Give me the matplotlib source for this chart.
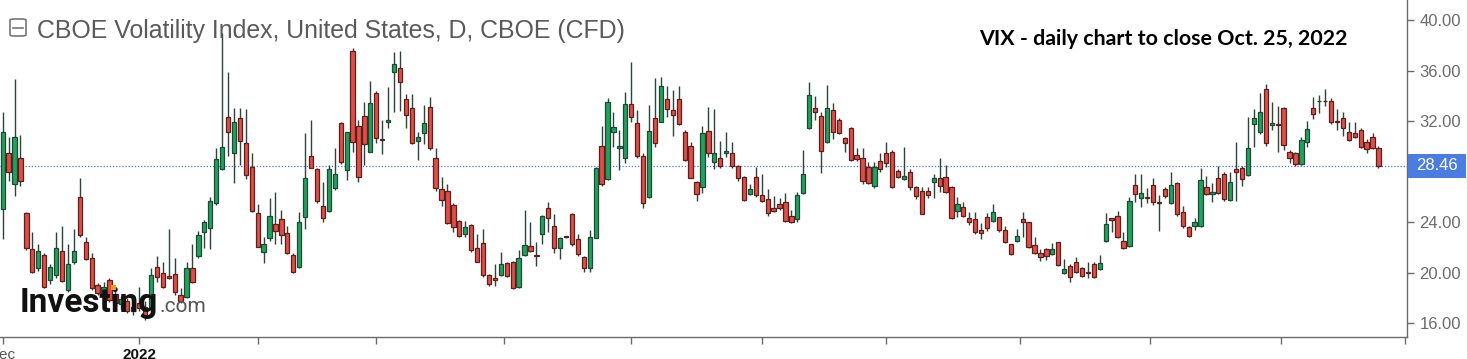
import matplotlib.pyplot as plt
import numpy as np
from matplotlib.patches import Rectangle, FancyBboxPatch
import matplotlib.transforms as mtransforms

# daily OHLC, VIX CFD, Dec 2021 -> Oct 25 2022
opens = [25.05, 29.45, 27.03, 29.10, 24.70, 21.86, 20.40, 21.41, 19.43, 19.80,
         21.75, 18.64, 20.83, 26.02, 22.46, 21.14, 19.03, 18.40, 19.43, 18.30,
         17.50, 17.80, 17.00, 17.60, 17.30, 17.20, 20.43, 19.96, 19.75, 19.88,
         18.24, 18.11, 20.35, 21.35, 23.25, 23.57, 25.50, 28.20, 32.30, 29.45,
         32.22, 30.30, 28.40, 24.70, 21.67, 22.78, 23.86, 24.23, 23.18, 21.41,
         20.49, 24.44, 29.24, 28.19, 25.31, 24.89, 26.68, 31.82, 28.13, 37.55,
         31.64, 32.43, 29.53, 34.20, 30.60, 31.90, 35.86, 36.23, 33.75, 33.01,
         30.45, 31.03, 33.14, 29.11, 26.63, 26.50, 25.36, 24.10, 23.07, 23.78,
         21.99, 22.33, 19.83, 19.62, 19.83, 20.75, 20.88, 18.85, 21.41, 22.12,
         21.40, 23.10, 25.10, 23.70, 21.96, 22.90, 24.63, 22.67, 21.28, 20.41,
         22.78, 30.03, 27.42, 31.11, 29.85, 29.06, 33.35, 31.82, 29.24, 25.97,
         32.27, 31.90, 33.72, 32.88, 33.72, 31.11, 30.03, 27.21, 26.81, 31.24,
         28.79, 29.11, 29.45, 29.45, 28.48, 27.55, 26.21, 27.55, 26.16, 25.81,
         25.10, 25.42, 25.63, 24.49, 24.26, 26.29, 31.43, 33.01, 32.43, 30.37,
         32.88, 32.09, 30.64, 31.48, 29.32, 29.11, 28.40, 26.89, 28.87, 29.45,
         29.58, 28.05, 27.42, 27.95, 26.81, 26.50, 26.50, 27.16, 27.47, 27.55,
         26.81, 24.92, 25.18, 24.36, 24.23, 23.39, 24.44, 24.10, 24.39, 23.39,
         22.25, 22.54, 24.23, 23.99, 22.20, 21.59, 21.86, 21.49, 22.41, 19.96,
         20.56, 20.88, 20.41, 20.09, 20.67, 20.30, 22.52, 24.31, 24.49, 22.54,
         22.15, 26.94, 25.89, 25.99, 26.94, 25.63, 26.63, 25.50, 27.08, 24.78,
         23.65, 23.70, 23.73, 26.81, 26.21, 27.53, 27.79, 25.73, 28.19, 28.27,
         27.74, 31.77, 31.17, 34.54, 31.69, 31.78, 33.01, 29.58, 29.45, 28.58,
         30.37, 33.01, 33.56, 33.62, 33.59, 32.00, 32.27, 31.11, 31.03, 31.30,
         30.37, 30.72, 29.90]
highs = [32.75, 30.77, 35.30, 30.90, 24.83, 23.25, 22.25, 21.54, 20.67, 23.20,
         23.70, 22.25, 23.46, 27.47, 22.81, 21.54, 19.17, 19.30, 19.60, 18.60,
         18.20, 18.00, 17.60, 18.90, 17.80, 20.35, 21.35, 20.88, 23.44, 21.14,
         18.77, 20.83, 22.25, 23.30, 24.18, 26.02, 29.85, 38.95, 35.86, 33.00,
         33.01, 32.93, 29.45, 25.42, 22.86, 25.89, 26.37, 24.97, 23.70, 21.54,
         24.84, 31.03, 32.09, 28.27, 27.21, 28.53, 29.85, 31.96, 31.17, 37.81,
         32.09, 33.49, 35.17, 34.38, 32.09, 34.73, 37.49, 37.55, 34.12, 34.12,
         31.11, 33.28, 33.93, 29.85, 27.55, 27.00, 25.50, 24.18, 24.10, 23.83,
         23.04, 23.44, 19.91, 20.67, 21.62, 20.88, 20.93, 21.80, 24.97, 23.99,
         22.46, 24.57, 25.57, 24.63, 22.86, 22.95, 24.70, 23.04, 21.36, 23.39,
         28.40, 31.61, 33.86, 32.75, 31.30, 34.33, 36.70, 32.88, 29.45, 33.28,
         35.39, 35.52, 34.80, 34.46, 34.80, 31.30, 30.37, 27.29, 31.61, 33.14,
         32.93, 30.43, 31.17, 30.32, 28.53, 27.68, 27.00, 28.40, 27.82, 26.63,
         26.08, 25.89, 26.34, 24.97, 26.37, 29.72, 35.07, 33.99, 32.75, 34.86,
         33.41, 32.22, 30.77, 31.56, 29.85, 29.85, 28.79, 28.79, 29.50, 30.32,
         29.72, 28.21, 29.93, 28.21, 26.87, 26.76, 26.81, 27.82, 29.11, 28.53,
         26.86, 26.02, 25.57, 24.84, 24.84, 23.91, 24.70, 25.42, 24.44, 23.70,
         22.31, 23.44, 24.84, 24.05, 22.86, 21.86, 21.94, 22.33, 22.46, 21.07,
         20.67, 21.28, 20.49, 20.83, 20.83, 21.41, 24.70, 24.36, 24.92, 23.25,
         26.02, 27.79, 27.79, 26.68, 27.53, 26.16, 26.76, 27.95, 27.16, 25.31,
         23.73, 24.36, 28.27, 27.68, 27.08, 28.48, 28.00, 28.00, 30.32, 28.48,
         32.35, 32.96, 34.20, 34.91, 33.49, 33.22, 33.14, 29.72, 29.58, 30.77,
         32.01, 33.93, 34.07, 34.54, 33.86, 32.96, 32.70, 31.96, 31.96, 31.43,
         30.59, 31.03, 30.06]
lows = [22.67, 27.26, 26.08, 26.90, 21.78, 19.96, 20.14, 18.77, 19.09, 19.56,
        19.30, 18.45, 20.67, 22.86, 21.01, 18.64, 18.24, 18.00, 17.70, 17.40,
        17.10, 16.80, 16.70, 17.00, 16.30, 17.10, 19.30, 18.77, 19.50, 18.24,
        17.60, 17.98, 19.17, 21.20, 22.00, 21.90, 25.40, 28.13, 29.27, 27.10,
        28.53, 27.42, 24.84, 22.01, 20.75, 22.52, 22.25, 22.25, 21.49, 19.96,
        20.35, 23.47, 28.27, 25.50, 24.05, 24.84, 26.55, 28.58, 27.34, 29.58,
        27.21, 28.53, 29.53, 30.24, 29.37, 31.48, 32.69, 32.80, 31.48, 30.16,
        28.92, 30.16, 29.72, 26.47, 25.31, 23.83, 23.20, 22.86, 22.86, 21.67,
        20.83, 19.70, 18.98, 18.98, 19.78, 19.70, 18.72, 18.82, 21.36, 21.62,
        20.56, 22.25, 23.20, 21.54, 21.09, 22.75, 22.15, 21.36, 20.04, 20.04,
        22.73, 26.89, 27.34, 29.98, 28.13, 28.66, 31.90, 29.11, 25.10, 25.94,
        29.98, 31.90, 32.35, 30.85, 31.69, 28.84, 27.47, 25.71, 26.29, 29.19,
        28.21, 28.32, 29.19, 28.32, 27.26, 25.68, 26.16, 26.02, 25.57, 24.52,
        24.84, 24.97, 24.05, 23.91, 24.05, 26.21, 31.38, 32.09, 27.87, 30.30,
        30.59, 30.95, 29.53, 28.87, 28.87, 27.00, 27.00, 26.68, 27.95, 28.40,
        26.74, 27.53, 27.37, 26.55, 25.81, 24.63, 25.94, 25.94, 26.42, 26.29,
        24.26, 24.44, 24.39, 23.78, 23.07, 22.65, 23.33, 23.99, 23.20, 22.36,
        21.41, 22.46, 22.86, 21.99, 21.49, 20.96, 21.01, 21.41, 20.56, 19.88,
        19.30, 19.96, 19.70, 19.62, 19.62, 20.22, 22.46, 23.20, 22.78, 21.88,
        22.07, 25.57, 25.23, 25.50, 25.36, 23.33, 25.89, 25.44, 24.52, 23.57,
        22.86, 23.39, 23.65, 26.16, 25.57, 26.21, 25.71, 25.68, 25.71, 26.89,
        27.68, 29.98, 30.95, 30.06, 31.30, 29.53, 29.72, 28.66, 28.48, 28.53,
        29.98, 32.17, 32.62, 33.22, 31.75, 31.30, 30.85, 30.43, 30.64, 29.85,
        29.45, 29.79, 28.32]
closes = [31.17, 28.00, 30.77, 27.29, 21.94, 20.04, 21.72, 18.85, 20.43, 21.99,
          19.38, 20.67, 21.72, 22.99, 21.09, 18.77, 18.37, 18.90, 17.85, 17.60,
          17.90, 17.00, 17.30, 17.20, 16.60, 19.83, 19.70, 18.90, 19.56, 18.50,
          17.77, 20.40, 19.30, 22.99, 23.99, 25.68, 29.00, 29.93, 31.17, 31.96,
          30.43, 27.74, 24.89, 22.07, 22.25, 24.49, 23.33, 22.99, 21.54, 20.04,
          23.99, 27.47, 28.32, 25.71, 24.31, 28.19, 27.82, 28.79, 31.11, 30.37,
          27.55, 30.16, 33.41, 30.69, 30.50, 32.09, 36.49, 35.12, 32.48, 30.24,
          30.77, 31.82, 29.85, 26.68, 25.76, 23.91, 23.60, 22.94, 23.65, 21.80,
          20.88, 19.83, 19.09, 19.43, 20.67, 19.78, 18.77, 21.15, 22.20, 21.72,
          21.33, 24.49, 24.31, 21.94, 22.78, 22.80, 22.25, 21.46, 20.41, 22.86,
          28.27, 27.03, 33.49, 31.56, 30.03, 33.35, 32.35, 29.27, 25.50, 31.24,
          30.24, 34.80, 32.96, 32.48, 31.77, 28.92, 27.53, 26.23, 31.03, 29.45,
          29.45, 28.45, 29.64, 28.48, 27.47, 25.73, 26.63, 26.16, 25.71, 24.76,
          24.89, 25.10, 24.10, 24.05, 26.16, 27.79, 34.07, 32.75, 29.64, 33.01,
          31.17, 31.03, 30.24, 28.92, 29.00, 27.26, 27.08, 28.40, 28.21, 28.71,
          26.81, 27.61, 27.68, 26.81, 26.08, 24.65, 26.16, 27.47, 26.89, 26.42,
          24.31, 25.42, 24.52, 23.99, 23.25, 23.12, 23.52, 24.84, 23.39, 22.41,
          21.46, 22.94, 23.99, 22.07, 21.59, 21.22, 21.36, 21.86, 20.62, 20.30,
          19.70, 20.04, 19.78, 19.96, 19.70, 20.75, 23.86, 24.18, 22.86, 21.94,
          25.68, 26.21, 26.29, 25.94, 25.63, 25.50, 26.08, 26.94, 24.65, 23.73,
          22.94, 23.99, 27.34, 26.23, 26.37, 26.34, 25.81, 27.21, 28.00, 27.40,
          29.90, 32.27, 32.70, 30.24, 31.82, 31.72, 30.11, 29.06, 28.58, 30.51,
          31.38, 32.54, 33.62, 33.56, 31.90, 31.96, 31.48, 30.51, 30.72, 29.98,
          29.79, 29.90, 28.46]

# month starts (candle index) and their labels
month_ticks = [0, 23, 43, 63, 84.5, 106, 128, 149, 171.5, 193.5, 215.5, 236.5]
month_labels = ["Dec", "2022", "", "", "", "", "", "", "", "", "", ""]
price_ticks = [16, 20, 24, 28, 32, 36, 40]

W, H = 1467, 359
fig = plt.figure(figsize=(W / 100, H / 100), dpi=100)
ax = fig.add_axes([0, 22.3 / H, 1407 / W, 336.7 / H])

o = np.array(opens)
c = np.array(closes)
hi = np.maximum(np.array(highs), np.maximum(o, c))
lo = np.minimum(np.array(lows), np.minimum(o, c))
x = np.arange(len(o))
up = c >= o

ax.vlines(x, lo, hi, color="#2b4538", lw=1.0, zorder=2)
body_lo = np.minimum(o, c)
body_h = np.maximum(np.abs(c - o), 0.04)
ax.bar(x[up], body_h[up], bottom=body_lo[up], width=0.72,
       color="#22a25e", edgecolor="#1d4a32", linewidth=0.9, zorder=3)
ax.bar(x[~up], body_h[~up], bottom=body_lo[~up], width=0.72,
       color="#dc5049", edgecolor="#5e1f1b", linewidth=0.9, zorder=3)

ymax = 40 + 20 / 12.64
ymin = 40 - 316.7 / 12.64
ax.set_ylim(ymin, ymax)
ax.set_xlim((0 - 2.7) / 5.93, (1407 - 2.7) / 5.93)

# last price line
last = closes[-1]
ax.axhline(last, color="#4f74d8", lw=0.9, ls=(0, (1, 1.5)), zorder=1)

for s in ["top", "left"]:
    ax.spines[s].set_visible(False)
for s in ["right", "bottom"]:
    ax.spines[s].set_color("#6b6b6b")
    ax.spines[s].set_linewidth(1.0)

# the 28.00 label sits under the price tag, so leave it blank
ax.yaxis.tick_right()
ax.set_yticks(price_ticks)
ax.set_yticklabels(["" if v == 28 else f"{v:.2f}" for v in price_ticks])
ax.tick_params(axis="y", direction="out", length=5, width=1, color="#6b6b6b",
               labelcolor="#6b6b6b", labelsize=12, pad=4)
for lab in ax.get_yticklabels():
    lab.set_family("Liberation Sans")

ax.set_xticks(month_ticks)
ax.set_xticklabels(month_labels)
ax.tick_params(axis="x", direction="out", length=5, width=1, color="#6b6b6b",
               labelsize=11, pad=3)
for i, lab in enumerate(ax.get_xticklabels()):
    lab.set_family("Liberation Sans")
    if month_labels[i] == "2022":
        lab.set_fontweight("bold")
        lab.set_color("#111111")
    else:
        lab.set_color("#555555")

# price tag on the right axis
upp = (ymax - ymin) / 336.7
trans = mtransforms.blended_transform_factory(ax.transAxes, ax.transData)
ax.add_patch(Rectangle((1.0 + 1 / 1407, last - 12 * upp), 58 / 1407, 24 * upp,
                       transform=trans, facecolor="#4a7ce2", edgecolor="none",
                       clip_on=False, zorder=10))
ax.text(1.0 + 30 / 1407, last, f"{last:.2f}", transform=trans, ha="center",
        va="center", color="white", fontsize=12, family="Liberation Sans",
        zorder=11, clip_on=False)

# header
fig.patches.append(FancyBboxPatch((10 / W, 1 - 36 / H), 16 / W, 17 / H,
                                  boxstyle="round,pad=0,rounding_size=0.003",
                                  transform=fig.transFigure, facecolor="none",
                                  edgecolor="#777777", linewidth=1.2))
fig.lines.append(plt.Line2D([13 / W, 23 / W], [1 - 27.5 / H, 1 - 27.5 / H],
                            transform=fig.transFigure, color="#777777", lw=1.2))
fig.text(37 / W, 1 - 38 / H, "CBOE Volatility Index, United States, D, CBOE (CFD)",
         fontsize=17.9, color="#5a5a5a", family="Liberation Sans", va="baseline")
fig.text(979 / W, 1 - 45 / H, "VIX - daily chart to close Oct. 25, 2022",
         fontsize=15.4, fontweight="bold", color="black", family="Lato",
         va="baseline")

# watermark: ".com" placed right after the measured end of "Investing"
logo = fig.text(20 / W, 1 - 312 / H, "Investing", fontsize=24, fontweight="bold",
                color="#111111", family="Roboto", va="baseline", zorder=20)
renderer = fig.canvas.get_renderer()
logo_end = logo.get_window_extent(renderer).x1
fig.text((logo_end + 1) / W, 1 - 312 / H, ".com", fontsize=15, color="#555555",
         family="Roboto", va="baseline", zorder=20)
fig.patches.append(Rectangle((111 / W, 1 - 290 / H), 5 / W, 5 / H,
                             transform=fig.transFigure, facecolor="#f39c12",
                             edgecolor="none", zorder=21))

fig.savefig("out.png", dpi=100, facecolor="white")
